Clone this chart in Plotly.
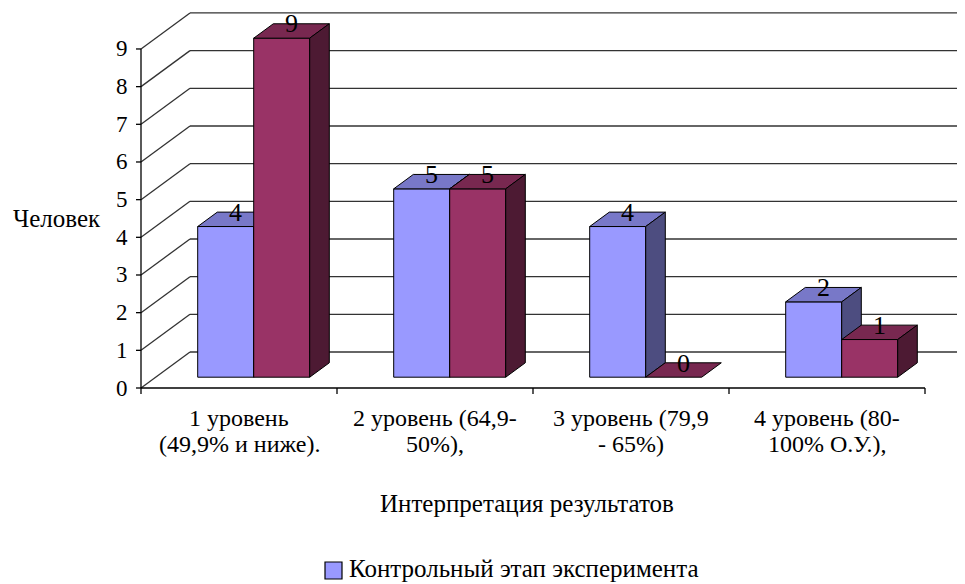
import plotly.graph_objects as go

# ---------------- data ----------------
categories = [
    "1 уровень<br>(49,9% и ниже).",
    "2 уровень (64,9-<br>50%),",
    "3 уровень (79,9<br>- 65%)",
    "4 уровень (80-<br>100% О.У.),",
]
series_names = ["Контрольный этап эксперимента", "Констатирующий этап эксперимента"]
control_values = [4, 5, 4, 2]
second_values = [9, 5, 0, 1]
y_tick_values = [0, 1, 2, 3, 4, 5, 6, 7, 8, 9]
y_title = "Человек"
x_title = "Интерпретация результатов"

# ---------------- styles ----------------
FONT = "Liberation Serif"
FRONT = ["#9999FF", "#993366"]
TOP = ["#7878C8", "#782850"]
SIDE = ["#4D4D80", "#4D1A33"]
GRID = "#333333"

OFF = 8  # page body margin in the browser
W, H = 965, 584
L, R, T, B = 112, 0, 0, 192
PX_CAT = 196.0      # pixels per category
PX_UNIT = 37.67     # pixels per value unit
X0PX, Y0PX = 141 - OFF, 388 - OFF

# 3D depth (back wall offset) in data units
DX = 49 / PX_CAT
DY = 36 / PX_UNIT
F0, F1 = 0.3, 0.7   # depth fraction where bars sit
BAR_W = 2 / 7
GAP = (1 - 2 * BAR_W) / 2

x_range = [(L - X0PX) / PX_CAT, (W - R - X0PX) / PX_CAT]
y_range = [(Y0PX - (H - B)) / PX_UNIT, (Y0PX - T) / PX_UNIT]
plot_w = W - L - R
plot_h = H - T - B


def pxx(px):
    return (px - OFF - L) / plot_w


def pxy(py):
    return (H - B - (py - OFF)) / plot_h


fig = go.Figure()
shapes = []
annotations = []

ymax = max(y_tick_values)
ncat = len(categories)

# back wall gridlines and left wall diagonals
for v in y_tick_values:
    shapes.append(dict(type="line", xref="x", yref="y", x0=DX, x1=ncat + DX,
                       y0=v + DY, y1=v + DY, line=dict(color=GRID, width=1.3), layer="below"))
    shapes.append(dict(type="line", xref="x", yref="y", x0=0, x1=DX,
                       y0=v, y1=v + DY, line=dict(color=GRID, width=1.3), layer="below"))
    # y ticks
    shapes.append(dict(type="line", xref="x", yref="y", x0=-5 / PX_CAT, x1=0,
                       y0=v, y1=v, line=dict(color="black", width=1.3), layer="below"))
    annotations.append(dict(xref="x", yref="y", x=0, y=v, text=str(v), showarrow=False,
                            xanchor="right", yanchor="middle", xshift=-11,
                            font=dict(family=FONT, size=23, color="black")))

# y axis line
shapes.append(dict(type="line", xref="x", yref="y", x0=0, x1=0, y0=0, y1=ymax,
                   line=dict(color="black", width=1.3), layer="below"))
# x axis line and ticks
shapes.append(dict(type="line", xref="x", yref="y", x0=0, x1=ncat, y0=0, y1=0,
                   line=dict(color="black", width=1.3), layer="below"))
for i in range(ncat + 1):
    shapes.append(dict(type="line", xref="x", yref="y", x0=i, x1=i, y0=0, y1=-6 / PX_UNIT,
                       line=dict(color="black", width=1.3), layer="below"))

# category labels
for i, lab in enumerate(categories):
    for j, line in enumerate(lab.split("<br>")):
        annotations.append(dict(xref="x", yref="paper", x=i + 0.5, y=pxy(418 + 26 * j), text=line,
                                showarrow=False, xanchor="center", yanchor="middle",
                                font=dict(family=FONT, size=24, color="black")))

# 3D bars
ddx = (F1 - F0) * DX
ddy = (F1 - F0) * DY
ox = F0 * DX
oy = F0 * DY


def poly(xs, ys, color):
    fig.add_trace(go.Scatter(x=xs + [xs[0]], y=ys + [ys[0]], mode="lines", fill="toself",
                             fillcolor=color, line=dict(color="black", width=1),
                             hoverinfo="skip", showlegend=False))


for i in range(ncat):
    for s, vals in enumerate([control_values, second_values]):
        v = vals[i]
        x0 = i + GAP + s * BAR_W + ox
        x1 = x0 + BAR_W
        y0 = oy
        y1 = oy + v
        if v > 0:
            poly([x0, x1, x1, x0], [y0, y0, y1, y1], FRONT[s])
        poly([x0, x1, x1 + ddx, x0 + ddx], [y1, y1, y1 + ddy, y1 + ddy], TOP[s])
        if v > 0:
            poly([x1, x1 + ddx, x1 + ddx, x1], [y0, y0 + ddy, y1 + ddy, y1], SIDE[s])
        annotations.append(dict(xref="x", yref="y", x=(x0 + x1) / 2 + ddx / 2, y=y1 + ddy / 2,
                                text=str(v), showarrow=False, xanchor="center", yanchor="middle",
                                yshift=7, font=dict(family=FONT, size=26, color="black")))

# titles
annotations.append(dict(xref="paper", yref="paper", x=pxx(57), y=pxy(219), text=y_title,
                        showarrow=False, xanchor="center", yanchor="middle",
                        font=dict(family=FONT, size=25, color="black")))
annotations.append(dict(xref="paper", yref="paper", x=pxx(527), y=pxy(503), text=x_title,
                        showarrow=False, xanchor="center", yanchor="middle",
                        font=dict(family=FONT, size=25, color="black")))

# legend (first series visible)
shapes.append(dict(type="rect", xref="paper", yref="paper", x0=pxx(325), x1=pxx(342),
                   y0=pxy(579), y1=pxy(562), fillcolor=FRONT[0], line=dict(color="black", width=1.2)))
annotations.append(dict(xref="paper", yref="paper", x=pxx(348), y=pxy(568), text=series_names[0],
                        showarrow=False, xanchor="left", yanchor="middle", borderpad=0,
                        font=dict(family=FONT, size=25, color="black")))

fig.update_layout(
    width=W, height=H,
    margin=dict(l=L, r=R, t=T, b=B),
    paper_bgcolor="white", plot_bgcolor="white",
    xaxis=dict(range=x_range, visible=False, fixedrange=True),
    yaxis=dict(range=y_range, visible=False, fixedrange=True),
    shapes=shapes, annotations=annotations, showlegend=False,
)

fig.write_html("out.html")
